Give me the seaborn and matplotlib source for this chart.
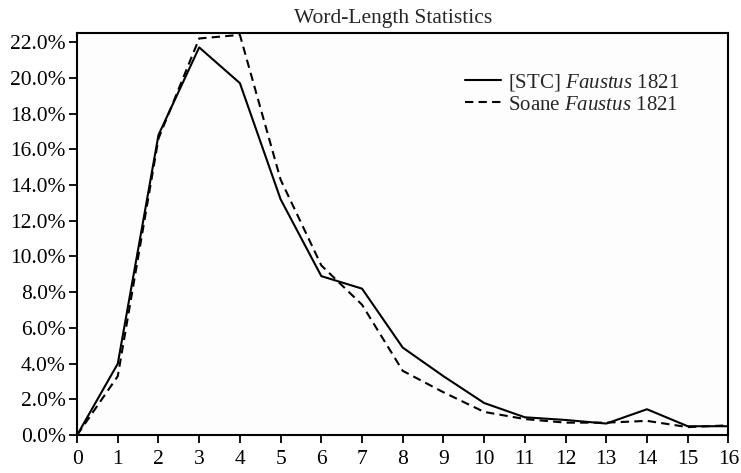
import numpy as np
import pandas as pd
import matplotlib
matplotlib.use("Agg")
import matplotlib.pyplot as plt
from matplotlib.ticker import FuncFormatter
import seaborn as sns

# word length (letters) and share of words in percent
word_length = list(range(0, 17))
stc_faustus = [0.0, 4.0, 16.8, 21.7, 19.7, 13.2, 8.9, 8.2, 4.9, 3.3, 1.8, 1.0, 0.85, 0.65, 1.45, 0.5, 0.5]
soane_faustus = [0.0, 3.3, 16.6, 22.2, 22.4, 14.3, 9.5, 7.3, 3.6, 2.4, 1.3, 0.9, 0.7, 0.7, 0.8, 0.45, 0.55]
series_names = ["[STC] $\\it{Faustus}$ 1821", "Soane $\\it{Faustus}$ 1821"]
y_ticks = [0, 2, 4, 6, 8, 10, 12, 14, 16, 18, 20, 22]

sns.set_style("white")
plt.rcParams['font.family'] = ['Liberation Serif', 'DejaVu Serif']
plt.rcParams['mathtext.fontset'] = 'custom'
plt.rcParams['mathtext.it'] = 'Liberation Serif:italic'
plt.rcParams['mathtext.rm'] = 'Liberation Serif'

fig = plt.figure(figsize=(7.41, 4.73), dpi=100)
ax = fig.add_axes([0.104, 0.08, 0.879, 0.85])
ax.set_facecolor('#fdfdfd')

sns.lineplot(x=word_length, y=stc_faustus, ax=ax, color='black', lw=1.5,
             label=series_names[0])
sns.lineplot(x=word_length, y=soane_faustus, ax=ax, color='black', lw=1.5,
             dashes=False, label=series_names[1])
ax.lines[1].set_linestyle((0, (4, 2.5)))

ax.set_xlim(0, 16)
ax.set_ylim(0, 22.5)
ax.set_xticks(word_length)
ax.set_yticks(y_ticks)
ax.yaxis.set_major_formatter(FuncFormatter(lambda v, p: f"{v:.1f}%"))
ax.tick_params(axis='both', direction='out', length=6, width=1.3, labelsize=15.5,
               colors='black', bottom=True, left=True)
ax.tick_params(axis='x', pad=5)
ax.tick_params(axis='y', pad=2)
for s in ax.spines.values():
    s.set_color('black')
    s.set_linewidth(1.5)

ax.set_title("Word-Length Statistics", fontsize=15.5, x=0.485, pad=7)
ax.legend(loc='upper right', frameon=False, fontsize=15, handlelength=1.7,
          handletextpad=0.35, labelspacing=0.1, bbox_to_anchor=(0.953, 0.95))

fig.savefig("out.png", dpi=100)
